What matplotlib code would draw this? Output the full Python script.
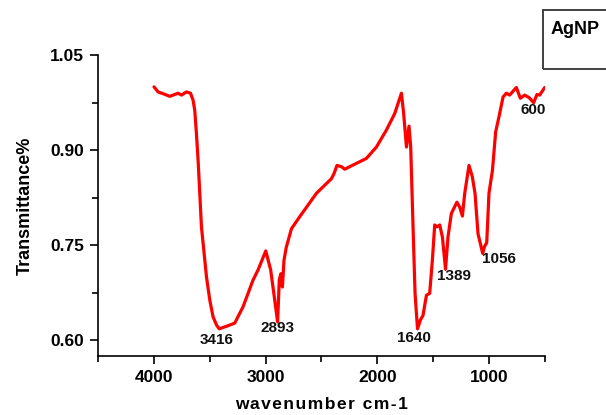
import numpy as np
import matplotlib
matplotlib.use("Agg")
import matplotlib.pyplot as plt
from matplotlib.patches import Rectangle
from matplotlib.ticker import MultipleLocator

plt.rcParams['font.family'] = ['Liberation Sans', 'DejaVu Sans']
plt.rcParams['font.weight'] = 'bold'

# FTIR spectrum of AgNP (wavenumber cm-1, transmittance)
wavenumber = [4000, 3963, 3900, 3859, 3784, 3754, 3709, 3673, 3650, 3635, 3620,
              3605, 3575, 3530, 3500, 3471, 3440, 3416, 3351, 3277, 3202, 3113,
              3068, 2999, 2955, 2920, 2893, 2878, 2864, 2850, 2836, 2815, 2769,
              2695, 2545, 2411, 2388, 2361, 2321, 2292, 2247, 2098, 2008, 1918,
              1844, 1784, 1764, 1739, 1716, 1701, 1680, 1662, 1640, 1614, 1591,
              1560, 1531, 1507, 1486, 1465, 1441, 1417, 1389, 1367, 1337, 1287,
              1262, 1238, 1217, 1179, 1149, 1125, 1098, 1056, 1040, 1020, 1000,
              969, 940, 910, 874, 844, 815, 755, 719, 680, 640, 600, 570, 546, 501]
transmittance = [1.000, 0.992, 0.988, 0.985, 0.990, 0.987, 0.992, 0.990, 0.979,
                 0.963, 0.926, 0.884, 0.779, 0.700, 0.663, 0.637, 0.624, 0.618,
                 0.622, 0.627, 0.653, 0.695, 0.711, 0.741, 0.711, 0.665, 0.629,
                 0.695, 0.705, 0.684, 0.726, 0.747, 0.776, 0.795, 0.832, 0.855,
                 0.863, 0.876, 0.874, 0.870, 0.874, 0.887, 0.905, 0.932, 0.958,
                 0.990, 0.958, 0.905, 0.938, 0.905, 0.779, 0.674, 0.618, 0.632,
                 0.639, 0.671, 0.674, 0.726, 0.782, 0.779, 0.782, 0.763, 0.712,
                 0.763, 0.800, 0.818, 0.810, 0.796, 0.832, 0.876, 0.858, 0.832,
                 0.768, 0.737, 0.748, 0.754, 0.832, 0.868, 0.929, 0.953, 0.984,
                 0.990, 0.987, 0.999, 0.982, 0.987, 0.983, 0.975, 0.988, 0.987,
                 0.999]

peaks = [3416, 2893, 1640, 1389, 1056, 600]
# label offsets (wavenumber shift, label height)
peak_text = {3416: (22, 0.601), 2893: (0, 0.619), 1640: (30, 0.603),
             1389: (-74, 0.702), 1056: (-146, 0.729), 600: (0, 0.963)}

fig = plt.figure(figsize=(6.06, 4.15), dpi=100)
ax = fig.add_axes([0.162, 0.142, 0.737, 0.725])

ax.plot(wavenumber, transmittance, color='#ff0000', lw=2.3,
        solid_joinstyle='round', solid_capstyle='round')

for p in peaks:
    dx, ty = peak_text[p]
    ax.text(p + dx, ty, str(p), ha='center', va='center', fontsize=11,
            fontweight='bold', color='#111111')

ax.set_xlim(4500, 500)
ax.set_ylim(0.575, 1.05)
ax.set_xticks([4000, 3000, 2000, 1000])
ax.xaxis.set_minor_locator(MultipleLocator(1000, offset=500))
ax.set_yticks([0.60, 0.75, 0.90, 1.05])
ax.set_yticklabels(['0.60', '0.75', '0.90', '1.05'])
ax.yaxis.set_minor_locator(MultipleLocator(0.15, offset=0.075))

ax.spines['top'].set_visible(False)
ax.spines['right'].set_visible(False)
for s in ['left', 'bottom']:
    ax.spines[s].set_linewidth(1.2)
ax.tick_params(which='major', direction='out', length=6, width=1.2, labelsize=12.5, pad=4)
ax.tick_params(which='minor', direction='out', length=4, width=1.2)
for lab in ax.get_xticklabels() + ax.get_yticklabels():
    lab.set_fontweight('bold')

xlab = '\u200a'.join('wavenumber cm-1')
ax.set_xlabel(xlab, fontsize=12.5, fontweight='bold', labelpad=9)
ax.set_ylabel('Transmittance%', fontsize=13, fontweight='bold', labelpad=12)

# sample legend box in the corner
fig.patches.append(Rectangle((543 / 606, 1 - 69 / 415), 0.2, 59 / 415,
                             transform=fig.transFigure, fill=False,
                             edgecolor='#333333', lw=1.3))
fig.text(551 / 606, 1 - 29 / 415, 'AgNP', fontsize=13, fontweight='bold',
         va='center', ha='left')

fig.savefig('out.png', dpi=100)
